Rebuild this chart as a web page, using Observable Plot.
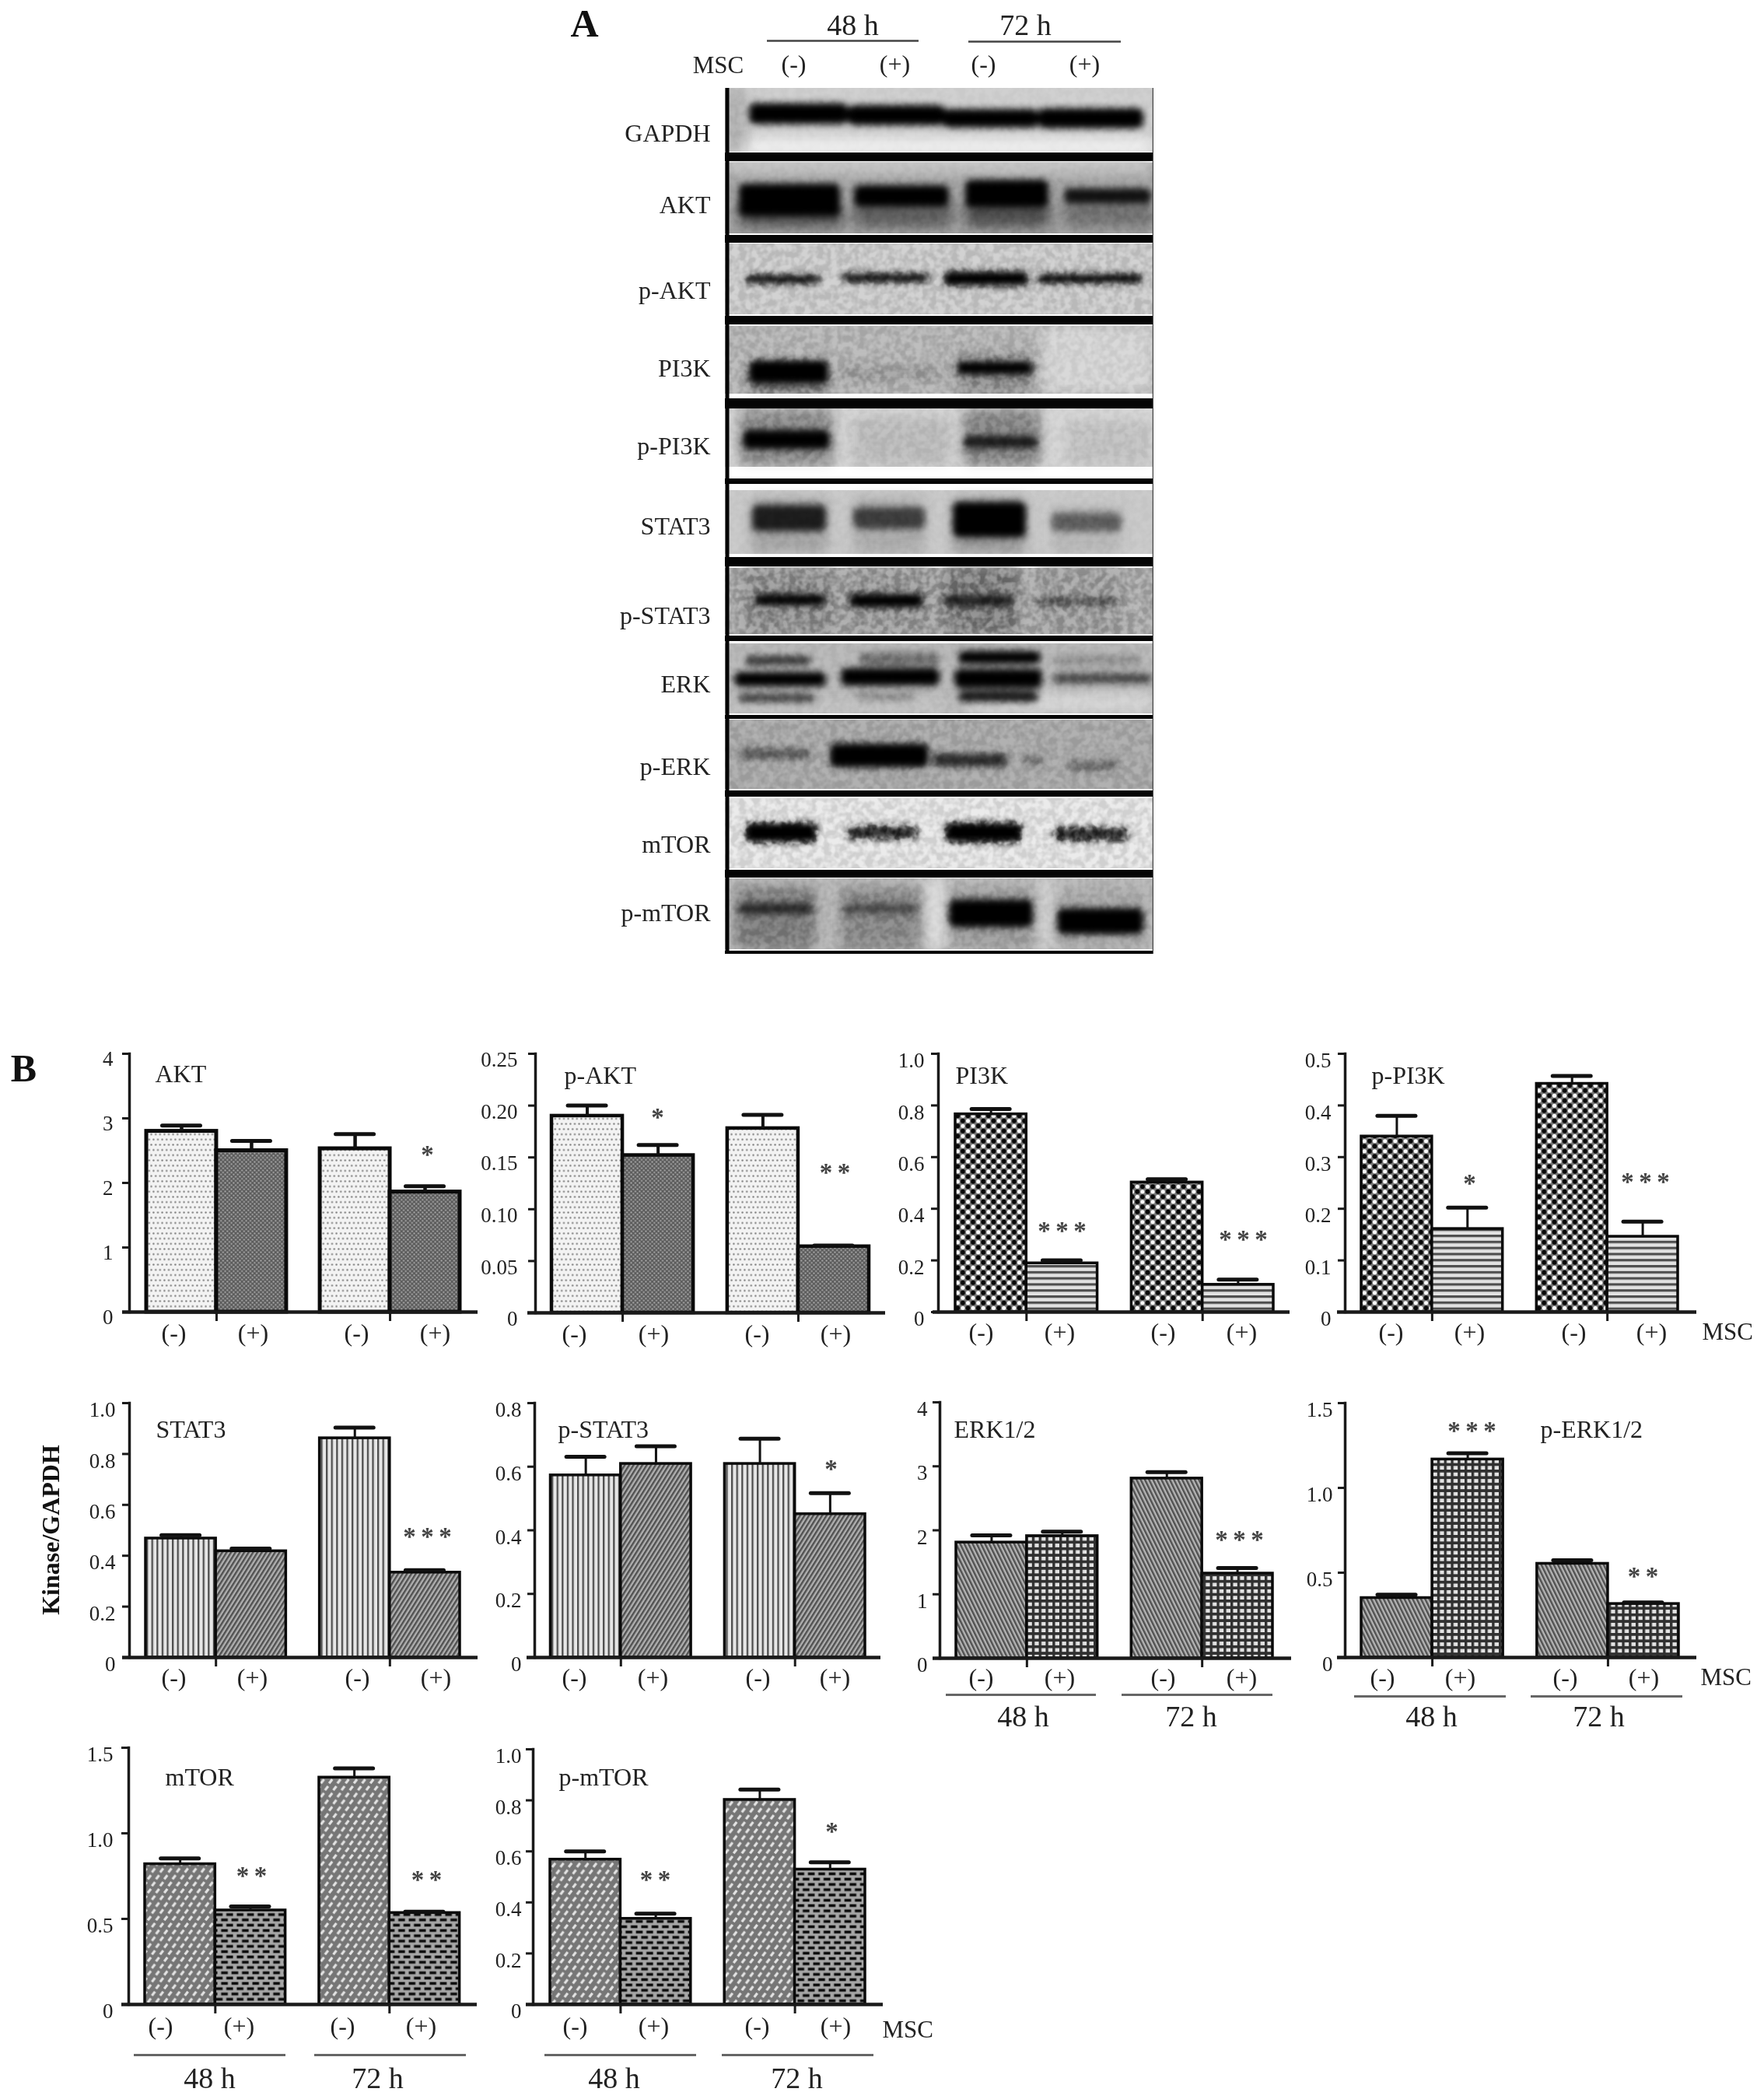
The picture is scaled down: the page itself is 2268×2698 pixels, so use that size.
<!DOCTYPE html>
<html><head><meta charset="utf-8">
<script src="https://cdn.jsdelivr.net/npm/d3@7"></script>
<script src="https://cdn.jsdelivr.net/npm/@observablehq/plot@0.6"></script>
<style>
html,body{margin:0;padding:0;background:#fff}
#page{position:relative;width:2268px;height:2698px;overflow:hidden;background:#fff;filter:blur(.6px)}
#page>div{position:absolute}
#page svg{display:block;max-width:none}
.smear{filter:blur(8px)}
.band{filter:blur(4.5px)}
.grain rect{filter:url(#grain)}
</style></head><body><div id="page"></div>
<svg width="0" height="0" style="position:absolute">
<defs id="defs">
<filter id="grain" x="0" y="0" width="100%" height="100%" color-interpolation-filters="sRGB">
<feTurbulence type="fractalNoise" baseFrequency="0.11" numOctaves="2" seed="4"/>
<feColorMatrix type="matrix" values="3.2 0 0 0 -1.1 3.2 0 0 0 -1.1 3.2 0 0 0 -1.1 0 0 0 0 1"/>
</filter>
<pattern id="dotLight" patternUnits="userSpaceOnUse" width="5.6" height="13.4"><rect width="5.6" height="13.4" fill="#f3f3f3"/><circle cx="1.4" cy="3.3" r="1.2" fill="#808080"/><circle cx="4.2" cy="10" r="1.2" fill="#808080"/></pattern>
<pattern id="dotDark" patternUnits="userSpaceOnUse" width="5.4" height="5.4"><rect width="5.4" height="5.4" fill="#5c5c5c"/><circle cx="1.35" cy="1.35" r="1.1" fill="#a8a8a8"/><circle cx="4.05" cy="4.05" r="1.1" fill="#a8a8a8"/></pattern>
<pattern id="checker" patternUnits="userSpaceOnUse" width="13.2" height="13"><rect width="13.2" height="13" fill="#777"/><circle cx="3.3" cy="3.25" r="3" fill="#080808"/><circle cx="9.9" cy="9.75" r="3" fill="#080808"/><circle cx="9.9" cy="3.25" r="2.6" fill="#fafafa"/><circle cx="3.3" cy="9.75" r="2.6" fill="#fafafa"/></pattern>
<pattern id="hStripe" patternUnits="userSpaceOnUse" width="8" height="7.8"><rect width="8" height="7.8" fill="#e2e2e2"/><rect y="0" width="8" height="3.2" fill="#4e4e4e"/></pattern>
<pattern id="vStripe" patternUnits="userSpaceOnUse" width="6.6" height="8"><rect width="6.6" height="8" fill="#e6e6e6"/><rect x="0" width="2.3" height="8" fill="#4c4c4c"/></pattern>
<pattern id="diagUp" patternUnits="userSpaceOnUse" width="4.8" height="6" patternTransform="rotate(32)"><rect width="4.8" height="6" fill="#b0b0b0"/><rect x="0" width="2.4" height="6" fill="#505050"/></pattern>
<pattern id="diagDown" patternUnits="userSpaceOnUse" width="4.8" height="6" patternTransform="rotate(-26)"><rect width="4.8" height="6" fill="#b4b4b4"/><rect x="0" width="2.4" height="6" fill="#505050"/></pattern>
<pattern id="grid" patternUnits="userSpaceOnUse" width="8.8" height="8.4"><rect width="8.8" height="8.4" fill="#e4e4e4"/><rect y="0" width="8.8" height="3.7" fill="#303030"/><rect x="0" width="3.4" height="8.4" fill="#303030"/></pattern>
<pattern id="slash" patternUnits="userSpaceOnUse" width="10.6" height="17.6"><rect width="10.6" height="17.6" fill="#767676"/><path d="M2.5 7L6.5 2M7.8 15.8L11.8 10.8M-2.8 15.8L1.2 10.8" stroke="#e4e4e4" stroke-width="3.2" fill="none"/></pattern>
<pattern id="brick" patternUnits="userSpaceOnUse" width="13.4" height="13.6"><rect width="13.4" height="13.6" fill="#a6a6a6"/><rect x="1.5" y="1.6" width="8.6" height="3.6" fill="#0c0c0c"/><rect x="8.2" y="8.4" width="8.6" height="3.6" fill="#0c0c0c"/><rect x="-5.2" y="8.4" width="8.6" height="3.6" fill="#0c0c0c"/></pattern>
</defs></svg>
<script>
// ---------- Panel B data ----------
const mscLabels = ["(-)", "(+)", "(-)", "(+)"];
const timeLabels = ["48 h", "72 h"];
const barSlots = [0, 1, 2.48, 3.48];           // bar position in bar widths

const aktValues = [2.80, 2.50, 2.53, 1.86];
const aktTops   = [2.89, 2.65, 2.755, 1.95];
const aktTicks  = [0, 1, 2, 3, 4];
const aktTickLabels = ["0", "1", "2", "3", "4"];

const pAktValues = [0.190, 0.152, 0.178, 0.064];
const pAktTops   = [0.200, 0.162, 0.191, 0.065];
const pAktTicks  = [0, 0.05, 0.10, 0.15, 0.20, 0.25];
const pAktTickLabels = ["0", "0.05", "0.10", "0.15", "0.20", "0.25"];

const pi3kValues = [0.766, 0.189, 0.502, 0.106];
const pi3kTops   = [0.786, 0.200, 0.514, 0.126];
const pi3kTicks  = [0, 0.2, 0.4, 0.6, 0.8, 1.0];
const pi3kTickLabels = ["0", "0.2", "0.4", "0.6", "0.8", "1.0"];

const pPi3kValues = [0.340, 0.161, 0.442, 0.146];
const pPi3kTops   = [0.380, 0.202, 0.457, 0.175];
const pPi3kTicks  = [0, 0.1, 0.2, 0.3, 0.4, 0.5];
const pPi3kTickLabels = ["0", "0.1", "0.2", "0.3", "0.4", "0.5"];

const stat3Values = [0.468, 0.418, 0.862, 0.334];
const stat3Tops   = [0.481, 0.428, 0.904, 0.343];
const stat3Ticks  = [0, 0.2, 0.4, 0.6, 0.8, 1.0];
const stat3TickLabels = ["0", "0.2", "0.4", "0.6", "0.8", "1.0"];

const pStat3Values = [0.573, 0.609, 0.609, 0.451];
const pStat3Tops   = [0.631, 0.664, 0.688, 0.517];
const pStat3Ticks  = [0, 0.2, 0.4, 0.6, 0.8];
const pStat3TickLabels = ["0", "0.2", "0.4", "0.6", "0.8"];

const erkValues = [1.81, 1.91, 2.81, 1.325];
const erkTops   = [1.92, 1.98, 2.91, 1.41];
const erkTicks  = [0, 1, 2, 3, 4];
const erkTickLabels = ["0", "1", "2", "3", "4"];

const pErkValues = [0.351, 1.168, 0.553, 0.316];
const pErkTops   = [0.370, 1.204, 0.573, 0.324];
const pErkTicks  = [0, 0.5, 1.0, 1.5];
const pErkTickLabels = ["0", "0.5", "1.0", "1.5"];

const mtorValues = [0.82, 0.55, 1.326, 0.535];
const mtorTops   = [0.853, 0.573, 1.379, 0.542];
const mtorTicks  = [0, 0.5, 1.0, 1.5];
const mtorTickLabels = ["0", "0.5", "1.0", "1.5"];

const pMtorValues = [0.568, 0.336, 0.802, 0.529];
const pMtorTops   = [0.600, 0.356, 0.842, 0.557];
const pMtorTicks  = [0, 0.2, 0.4, 0.6, 0.8, 1.0];
const pMtorTickLabels = ["0", "0.2", "0.4", "0.6", "0.8", "1.0"];

// ---------- Panel A data: blot rows and bands (reference pixels) ----------
const blotLabels = ["GAPDH","AKT","p-AKT","PI3K","p-PI3K","STAT3","p-STAT3","ERK","p-ERK","mTOR","p-mTOR"];
const blotLabelY = [171,263,373,473,573,676,791,879,985,1085,1173];
const blotTops    = [113,209,313,419,525,630,730,827,925,1026,1129];
const blotBottoms = [195,300,404,506,600,712,815,917,1014,1116,1220];
const blotGrays   = ["#cdcdcd","#a0a0a0","#c6c6c6","#b2b2b2","#d4d4d4","#c8c8c8","#a8a8a8","#b6b6b6","#a6a6a6","#dedede","#b8b8b8"];
const blotGrain   = [0.06,0.05,0.22,0.16,0.1,0.05,0.2,0.07,0.12,0.42,0.1];
const separators = [[196,207],[302,312],[406,417],[512,525],[615,622],[716,728],[817,824],[919,924],[1016,1024],[1118,1128],[1222,1226]];
const smears = [ // x1,x2,y1,y2,gray
 [932,1483,178,200,"#efefef"],[932,960,113,195,"#b0b0b0"],
 [932,1483,205,224,"#c6c6c6"],[950,1085,262,292,"#505050"],[1098,1225,258,292,"#5c5c5c"],[1241,1350,258,292,"#4c4c4c"],[1368,1483,258,292,"#707070"],
 [1340,1483,419,506,"#d2d2d2"],[963,1065,470,506,"#707070"],[1230,1328,455,506,"#8a8a8a"],[1080,1210,470,490,"#a0a0a0"],
 [950,1072,525,600,"#8a8a8a"],[1238,1338,525,600,"#858585"],[1095,1222,535,600,"#bababa"],[1370,1480,540,600,"#c0c0c0"],
 [965,1065,640,712,"#a4a4a4"],[1097,1189,640,712,"#aaaaaa"],[1225,1319,640,712,"#989898"],[1352,1442,650,712,"#b6b6b6"],
 [955,1075,730,815,"#8e8e8e"],[1085,1200,730,815,"#969696"],[1212,1310,730,815,"#7c7c7c"],[1332,1445,730,815,"#9c9c9c"],
 [1240,1483,890,917,"#d4d4d4"],[932,1220,900,917,"#c4c4c4"],
 [945,1050,1140,1220,"#7c7c7c"],[1080,1185,1140,1220,"#868686"],[1222,1330,1140,1220,"#9a9a9a"],[1360,1475,1140,1220,"#a6a6a6"],
 [1190,1215,1129,1220,"#dcdcdc"],[1335,1355,1129,1220,"#cfcfcf"]
];
const bands = [ // x1,x2,centre y,thickness,gray
 [963,1090,146,27,"#000"],[1090,1215,148,26,"#000"],[1212,1335,152,24,"#000"],[1335,1470,152,26,"#000"],
 [950,1080,257,42,"#000"],[1098,1220,252,28,"#000"],[1241,1348,249,36,"#000"],[1368,1480,252,20,"#111"],
 [958,1055,359,11,"#000"],[1083,1195,357,11,"#000"],[1213,1322,358,19,"#000"],[1333,1470,358,12,"#000"],
 [963,1065,478,30,"#000"],[1230,1328,473,17,"#000"],[1083,1205,480,12,"#999"],
 [955,1067,565,25,"#000"],[1238,1335,568,16,"#1a1a1a"],
 [967,1062,666,34,"#1c1c1c"],[1097,1189,666,28,"#3c3c3c"],[1225,1319,668,46,"#000"],[1352,1442,671,24,"#5c5c5c"],
 [970,1062,771,15,"#000"],[1092,1187,772,18,"#000"],[1213,1302,772,14,"#1a1a1a"],[1333,1439,773,9,"#444"],
 [958,1043,849,12,"#333"],[944,1062,873,19,"#000"],[949,1048,897,12,"#444"],
 [1104,1208,847,16,"#6c6c6c"],[1081,1208,870,23,"#000"],[1100,1175,895,11,"#8a8a8a"],
 [1232,1338,845,17,"#000"],[1227,1340,872,25,"#000"],[1232,1335,895,15,"#181818"],
 [1354,1467,849,14,"#909090"],[1354,1481,872,14,"#4c4c4c"],
 [949,1043,969,14,"#5a5a5a"],[1067,1194,971,31,"#000"],[1199,1295,977,17,"#2a2a2a"],[1314,1345,977,10,"#6a6a6a"],[1373,1439,984,12,"#666"],
 [958,1050,1070,26,"#000"],[1088,1180,1070,17,"#222"],[1215,1314,1070,26,"#000"],[1354,1451,1072,17,"#222"],
 [949,1045,1168,14,"#262626"],[1083,1180,1168,12,"#444"],[1220,1328,1174,36,"#000"],[1359,1470,1184,34,"#000"]
];

// ---------- Layout (reference pixels) ----------
const FONT = "'Liberation Serif','Times New Roman',serif";
const INK = "#222";
const S1 = "*", S2 = "*\u2009*", S3 = "*\u2009*\u2009*";
const panels = [
 {name:"AKT",values:aktValues,tops:aktTops,ticks:aktTicks,tickLabels:aktTickLabels,fills:["dotLight","dotDark"],axis:166,top:1354,base:1686,barL:188,barR:591,xa:[157,614],labelX:[223,325,458,559],labelY:1713,tickRight:145,tickDy:7,titleX:199,titleY:1390,stars:[[S1,549,1478]],stroke:5},
 {name:"p-AKT",values:pAktValues,tops:pAktTops,ticks:pAktTicks,tickLabels:pAktTickLabels,fills:["dotLight","dotDark"],axis:688,top:1354,base:1687,barL:709,barR:1117,xa:[678,1138],labelX:[738,840,973,1074],labelY:1714,tickRight:665,tickDy:8,titleX:725,titleY:1392,stars:[[S1,845,1430],[S2,1073,1501]],stroke:4.5},
 {name:"PI3K",values:pi3kValues,tops:pi3kTops,ticks:pi3kTicks,tickLabels:pi3kTickLabels,fills:["checker","hStripe"],axis:1206,top:1354,base:1686,barL:1228,barR:1637,xa:[1199,1658],labelX:[1261,1362,1495,1596],labelY:1712,tickRight:1188,tickDy:9,titleX:1228,titleY:1392,stars:[[S3,1365,1576],[S3,1598,1587]],stroke:3.5},
 {name:"p-PI3K",values:pPi3kValues,tops:pPi3kTops,ticks:pPi3kTicks,tickLabels:pPi3kTickLabels,fills:["checker","hStripe"],axis:1729,top:1354,base:1686,barL:1750,barR:2157,xa:[1719,2181],labelX:[1788,1889,2023,2123],labelY:1712,tickRight:1711,tickDy:9,titleX:1763,titleY:1392,stars:[[S1,1889,1515],[S3,2115,1513]],stroke:3.5,msc:[2188,1712]},
 {name:"STAT3",values:stat3Values,tops:stat3Tops,ticks:stat3Ticks,tickLabels:stat3TickLabels,fills:["vStripe","diagUp"],axis:166,top:1803,base:2130,barL:187,barR:591,xa:[157,614],labelX:[223,324,459,560],labelY:2156,tickRight:148,tickDy:9,titleX:200,titleY:1847,stars:[[S3,549,1969]],stroke:3.5},
 {name:"p-STAT3",values:pStat3Values,tops:pStat3Tops,ticks:pStat3Ticks,tickLabels:pStat3TickLabels,fills:["vStripe","diagUp"],axis:687,top:1803,base:2130,barL:707.5,barR:1112,xa:[677,1132],labelX:[738,839,974,1073],labelY:2156,tickRight:670,tickDy:9,titleX:717,titleY:1847,stars:[[S1,1068,1882]],stroke:3.5},
 {name:"ERK1/2",values:erkValues,tops:erkTops,ticks:erkTicks,tickLabels:erkTickLabels,fills:["diagDown","grid"],axis:1208,top:1802,base:2131,barL:1229,barR:1636,xa:[1199,1660],labelX:[1261,1362,1495,1596],labelY:2156,tickRight:1192,tickDy:9,titleX:1226,titleY:1847,stars:[[S3,1593,1973]],stroke:3.5,under:[[1216,1409],[1442,1636]],underY:2178,timeX:[1315,1531],timeY:2206},
 {name:"p-ERK1/2",values:pErkValues,tops:pErkTops,ticks:pErkTicks,tickLabels:pErkTickLabels,fills:["diagDown","grid"],axis:1729,top:1803,base:2130,barL:1750,barR:2158,xa:[1719,2181],labelX:[1777,1877,2012,2113],labelY:2156,tickRight:1713,tickDy:9,titleX:1980,titleY:1847,stars:[[S3,1892,1833],[S2,2112,2020]],stroke:3.5,msc:[2186,2156],under:[[1741,1936],[1968,2163]],underY:2180,timeX:[1840,2055],timeY:2206},
 {name:"mTOR",values:mtorValues,tops:mtorTops,ticks:mtorTicks,tickLabels:mtorTickLabels,fills:["slash","brick"],axis:165,top:2246,base:2576,barL:186,barR:590.6,xa:[156,613],labelX:[206,307,440,541],labelY:2604,tickRight:145,tickDy:9,titleX:212,titleY:2294,stars:[[S2,323,2405],[S2,548,2410]],stroke:3.5,under:[[172,367],[404,599]],underY:2641,timeX:[269,485],timeY:2671},
 {name:"p-mTOR",values:pMtorValues,tops:pMtorTops,ticks:pMtorTicks,tickLabels:pMtorTickLabels,fills:["slash","brick"],axis:685,top:2248,base:2576,barL:707,barR:1112,xa:[676,1135],labelX:[739,840,973,1074],labelY:2604,tickRight:670,tickDy:9,titleX:718,titleY:2294,stars:[[S2,842,2410],[S1,1069,2348]],stroke:3.5,msc:[1134,2609],under:[[700,895],[928,1123]],underY:2641,timeX:[789,1024],timeY:2671}
];

const page = document.getElementById("page");
function place(node, left, top) {
  const d = document.createElement("div");
  d.style.left = left + "px"; d.style.top = top + "px";
  d.appendChild(node); page.appendChild(d);
}

// ---------- Panel A: blots ----------
const blotX = [932, 1483], blotY = [113, 1226];
const rowTable = blotLabels.map((label, i) => ({label, y1: blotTops[i], y2: blotBottoms[i], gray: blotGrays[i], grain: blotGrain[i]}));
place(Plot.plot({
  width: blotX[1] - blotX[0], height: blotY[1] - blotY[0],
  margin: 0,
  x: {domain: blotX, range: [0, blotX[1] - blotX[0]], axis: null},
  y: {domain: blotY, range: [0, blotY[1] - blotY[0]], axis: null},
  style: {background: "transparent"},
  marks: [
    Plot.rect(rowTable, {x1: blotX[0], x2: blotX[1], y1: "y1", y2: "y2", fill: {value: "gray", scale: null}}),
    Plot.rect(smears, {x1: d => d[0], x2: d => d[1], y1: d => d[2], y2: d => d[3], fill: {value: d => d[4], scale: null}, className: "smear", rx: 8}),
    Plot.rect(bands, {x1: d => d[0], x2: d => d[1], y1: d => d[2] - d[3] / 2, y2: d => d[2] + d[3] / 2, fill: {value: d => d[4], scale: null}, className: "band", rx: 8}),
    Plot.rect(rowTable, {x1: blotX[0], x2: blotX[1], y1: "y1", y2: "y2", fill: "#888", opacity: {value: "grain", scale: null}, className: "grain", mixBlendMode: "overlay"}),
    Plot.rect(blotTops.map((_, i) => [blotBottoms[i], (separators[i] || [])[0]]).slice(0, 11), {x1: blotX[0], x2: blotX[1], y1: d => d[0], y2: d => d[1], fill: "#fff", fillOpacity: 0.85}),
    Plot.rect(separators, {x1: blotX[0], x2: blotX[1], y1: d => d[0], y2: d => d[1], fill: "#050505"}),
    Plot.ruleX([blotX[0] + 2.5], {stroke: "#050505", strokeWidth: 5}),
    Plot.ruleX([blotX[1] - 1], {stroke: "#444", strokeWidth: 1.5})
  ]
}), blotX[0], blotY[0]);

// ---------- Page-level text ----------
const headers = [
  {t: "48 h", x: 1096, y: 32, s: 38}, {t: "72 h", x: 1318, y: 32, s: 38},
  {t: "(-)", x: 1020, y: 82, s: 32}, {t: "(+)", x: 1150, y: 82, s: 32}, {t: "(-)", x: 1264, y: 82, s: 32}, {t: "(+)", x: 1394, y: 82, s: 32}
];
const headerLines = [[986, 1181, 52], [1245, 1441, 53]];
place(Plot.plot({
  width: 2268, height: 1300, margin: 0,
  x: {domain: [0, 2268], range: [0, 2268], axis: null},
  y: {domain: [0, 1300], range: [0, 1300], axis: null},
  style: {background: "transparent", fontFamily: FONT, overflow: "visible"},
  marks: [
    Plot.text(["A"], {x: 751, y: 30, fontSize: 50, fontWeight: "bold", fill: "#111", fontFamily: FONT}),
    Plot.text(["B"], {x: 30, y: 1373, fontSize: 50, fontWeight: "bold", fill: "#111", fontFamily: FONT}),
    Plot.text(["Kinase/GAPDH"], {x: 65, y: 1966, rotate: -90, fontSize: 32, fontWeight: "bold", fill: "#111", fontFamily: FONT}),
    Plot.text(headers, {x: "x", y: "y", text: "t", fontSize: "s", fill: INK, fontFamily: FONT}),
    Plot.text(["MSC"], {x: 923, y: 84, fontSize: 31, fill: INK, fontFamily: FONT}),
    Plot.ruleY(headerLines, {x1: d => d[0], x2: d => d[1], y: d => d[2], stroke: "#444", strokeWidth: 2.5}),
    Plot.text(blotLabels.map((t, i) => ({t, y: blotLabelY[i]})), {x: 913, y: "y", text: "t", textAnchor: "end", fontSize: 32, fill: INK, fontFamily: FONT})
  ]
}), 0, 0);

// ---------- Panel B: bar charts ----------
const PAD_L = 110, PAD_T = 40, PAD_B = 130, W = 650;
for (const p of panels) {
  const L = p.axis - PAD_L, T = p.top - PAD_T;
  const maxV = p.ticks[p.ticks.length - 1];
  const unit = (p.barR - p.barL) / 4.48;
  const xOf = px => (px - p.barL) / unit;
  const yOf = py => (p.base - py) / (p.base - p.top) * maxV;
  const data = p.values.map((value, i) => ({
    value, top: p.tops[i], x1: barSlots[i], x2: barSlots[i] + 1, mid: barSlots[i] + 0.5,
    fill: `url(#${p.fills[i % 2]})`
  }));
  const common = {fontFamily: FONT, fill: INK};
  const marks = [
    Plot.rect(data, {x1: "x1", x2: "x2", y1: () => 0, y2: "value", fill: {value: "fill", scale: null}, stroke: "#0a0a0a", strokeWidth: p.stroke}),
    Plot.ruleX(data, {x: "mid", y1: "value", y2: "top", stroke: "#111", strokeWidth: p.stroke - 0.5}),
    Plot.ruleY(data, {x1: d => d.mid - 24.5 / unit, x2: d => d.mid + 24.5 / unit, y: "top", stroke: "#111", strokeWidth: 5, strokeLinecap: "round"}),
    Plot.frame({anchor: "left", stroke: "#1a1a1a", strokeWidth: 3.5}),
    Plot.axisY({ticks: p.ticks, tickSize: 9, tickFormat: () => "", strokeWidth: 3, stroke: "#1a1a1a", label: null}),
    Plot.axisY({ticks: p.ticks, tickSize: 0, tickPadding: p.axis - p.tickRight, tickFormat: (d, i) => p.tickLabels[i], dy: p.tickDy, fontSize: 27, fill: INK, fontFamily: FONT, label: null}),
    Plot.ruleY([0], {x1: xOf(p.xa[0]), x2: xOf(p.xa[1]), stroke: "#1a1a1a", strokeWidth: 4.5}),
    Plot.ruleX([1, 3.48], {y1: yOf(p.base + 12), y2: 0, stroke: "#1a1a1a", strokeWidth: 3}),
    Plot.text(mscLabels, {x: (_, i) => xOf(p.labelX[i]), y: yOf(p.labelY), fontSize: 32, ...common}),
    Plot.text([p.name], {x: xOf(p.titleX), y: yOf(p.titleY), textAnchor: "start", lineAnchor: "bottom", fontSize: 32, ...common}),
    Plot.text(p.stars, {x: d => xOf(d[1]), y: d => yOf(d[2]), text: d => d[0], dy: 6, fontSize: 33, fontWeight: "bold", fontFamily: FONT, fill: "#444"})
  ];
  if (p.msc) marks.push(Plot.text(["MSC"], {x: xOf(p.msc[0]), y: yOf(p.msc[1]), textAnchor: "start", fontSize: 31, ...common}));
  if (p.under) {
    marks.push(Plot.ruleY(p.under, {x1: d => xOf(d[0]), x2: d => xOf(d[1]), y: yOf(p.underY), stroke: "#666", strokeWidth: 3}));
    marks.push(Plot.text(timeLabels, {x: (_, i) => xOf(p.timeX[i]), y: yOf(p.timeY), fontSize: 38, ...common}));
  }
  place(Plot.plot({
    width: W, height: p.base - p.top + PAD_T + PAD_B,
    marginLeft: PAD_L, marginRight: 0, marginTop: PAD_T, marginBottom: PAD_B,
    x: {domain: [0, 4.48], range: [p.barL - L, p.barR - L], axis: null},
    y: {domain: [0, maxV], axis: null},
    style: {background: "transparent", fontFamily: FONT, overflow: "visible"},
    marks
  }), L, T);
}
</script></body></html>
